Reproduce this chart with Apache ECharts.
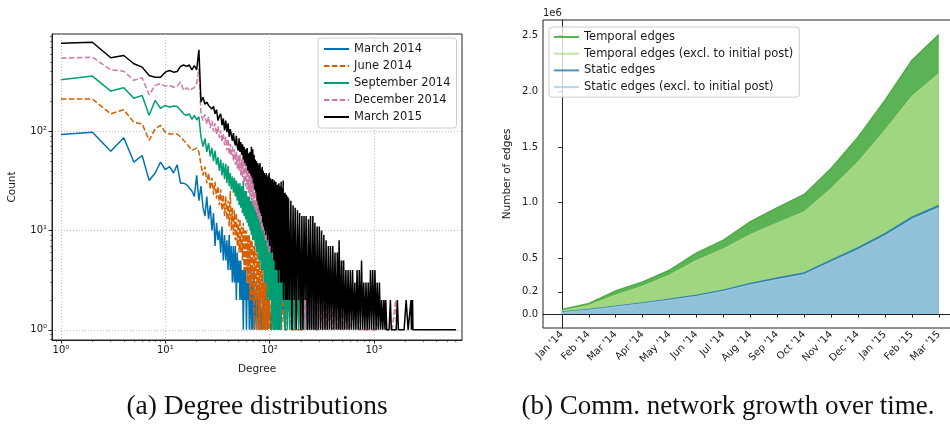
<!DOCTYPE html>
<html>
<head>
<meta charset="utf-8">
<script src="https://cdn.jsdelivr.net/npm/echarts@6/dist/echarts.min.js"></script>
<style>
html, body { margin: 0; padding: 0; background: #fff; }
#chart { width: 950px; height: 429px; }
</style>
</head>
<body>
<div id="chart"></div>
<script>
// (a) degree distributions, [degree, count]
const degMar14 = [[1,93],[2,98],[3,63],[4,86],[5,49],[6,57],[7,32],[8,38],[9,49],[10,41],[11,44],[12,38],[13,46],[14,30],[15,30],[16,29],[17,27],[18,25],[19,22],[20,36],[21,20],
    [22,28],[23,17],[24,14],[25,22],[26,13],[27,18],[28,10],[29,15],[30,7],[31,12],[32,8],[33,10],[34,6],[35,11],[36,5],[37,9],[38,5],[39,8],[40,4],[41,9],[42,4],[43,7],[44,3],[45,7],[46,3],[47,7],[48,2],[49,6],[50,3],[51,5],[52,2],[53,5],[54,2],[55,4],[56,1],[57,4],[58,2],[59,4],[60,1],[61,3],[62,2],[63,3],[64,1],[65,1],[66,4],[67,1],[68,3],[69,1],[70,4],
    [72,1],[75,3],[78,1],[80,3],[83,1],[86,2],[89,1],[92,2],[95,1],[99,2],[103,1],[107,2],[111,1],[120,2],[125,1],[135,2],[140,1],[147,1]];

const degJun14 = [[1,211],[2,211],[3,150],[4,165],[5,123],[6,119],[7,81],[8,106],[9,115],[10,98],[11,94],[12,94],[13,94],[14,88],[15,81],[16,75],[17,70],[18,64],[19,66],[20,68],[21,62],
    [22,46],[23,36],[24,44],[25,30],[26,38],[27,26],[28,34],[29,23],[30,31],[31,21],[32,28],[33,18],[34,26],[35,16],[36,23],[37,14],[38,22],[39,13],[40,20],[41,11],[42,25],[43,10],[44,17],[45,9],[46,16],[47,8],[48,15],[49,7],[50,13],[51,6],[52,13],[53,6],[54,11],[55,5],[56,12],[57,4],[58,10],[59,4],[60,10],[61,3],[62,9],[63,3],[64,9],[65,2],[66,8],[67,2],[68,8],[69,2],[70,7],[71,1],[72,7],[73,2],[74,6],[75,1],[76,6],[77,2],[78,5],[79,1],[80,5],[81,1],[82,4],[83,2],[84,4],[85,1],[86,4],[87,1],[88,3],[89,1],[90,4],[91,1],[92,3],[93,1],[94,3],[95,1],[96,2],[97,1],[98,3],[99,1],[100,2],
    [104,1],[108,2],[112,1],[116,2],[120,1],[125,2],[130,1],[135,2],[140,1],[146,1],[158,2],[162,1],[186,1],[219,1]];

const degSep14 = [[1,331],[2,360],[3,254],[4,275],[5,215],[6,230],[7,145],[8,205],[9,170],[10,182],[11,175],[12,180],[13,178],[14,163],[15,150],[16,145],[17,150],[18,132],[19,145],[20,130],[21,140],
    [22,88],[23,70],[24,85],[25,62],[26,76],[27,56],[28,68],[29,50],[30,64],[31,46],[32,55],[33,40],[34,52],[35,36],[36,48],[37,33],[38,47],[39,30],[40,45],[41,28],[42,38],[43,26],[44,35],[45,24],[46,34],[47,22],[48,32],[49,20],[50,30],[51,18],[52,30],[53,17],[54,28],[55,15],[56,32],[57,14],[58,25],[59,13],[60,25],[61,12],[62,22],[63,11],[64,22],[65,10],[66,20],[67,9],[68,20],[69,8],[70,19],[71,8],[72,19],[73,7],[74,17],[75,6],[76,18],[77,6],[78,16],[79,5],[80,16],[81,5],[82,15],[83,4],[84,15],[85,4],[86,14],[87,4],[88,13],[89,3],[90,14],[91,3],[92,12],[93,3],[94,12],[95,2],[96,13],[97,3],[98,11],[99,2],[100,12],[101,2],[102,10],[103,2],[104,11],[105,1],[106,10],[107,2],[108,9],[109,1],[110,9],[111,2],[112,8],[113,1],[114,8],[115,2],[116,7],[117,1],[118,8],[119,1],[120,7],
    [123,1],[126,6],[129,1],[132,6],[135,2],[138,5],[141,1],[144,5],[148,1],[152,5],[156,1],[160,4],[164,1],[168,4],[172,1],[176,4],[180,1],[185,3],[190,1],[194,3],[199,1],[204,3],[209,1],[214,3],[219,1],[224,3],[230,1],[236,2],[241,1],[247,2],[253,1],[260,2],[266,1],[272,2],[279,1],[290,1]];

const degDec14 = [[1,545],[2,558],[3,416],[4,403],[5,326],[6,346],[7,233],[8,290],[9,302],[10,285],[11,290],[12,278],[13,285],[14,313],[15,258],[16,275],[17,258],[18,268],[19,275],[20,302],[21,427],
    [22,150],[23,128],[24,148],[25,118],[26,140],[27,108],[28,128],[29,100],[30,120],[31,92],[32,112],[33,86],[34,102],[35,78],[36,95],[37,72],[38,88],[39,64],[40,84],[41,58],[42,75],[43,56],[44,70],[45,50],[46,66],[47,46],[48,62],[49,42],[50,58],[51,40],[52,58],[53,36],[54,52],[55,34],[56,55],[57,30],[58,48],[59,28],[60,47],[61,26],[62,44],[63,24],[64,44],[65,22],[66,40],[67,20],[68,40],[69,18],[70,36],[71,17],[72,36],[73,16],[74,33],[75,15],[76,32],[77,14],[78,32],[79,13],[80,30],[81,12],[82,29],[83,11],[84,28],[85,10],[86,27],[87,10],[88,26],[89,9],[90,25],[91,8],[92,24],[93,8],[94,24],[95,7],[96,23],[97,7],[98,22],[99,6],[100,22],
    [103,6],[106,20],[109,5],[112,18],[115,5],[118,16],[121,4],[124,15],[127,4],[130,14],[133,3],[136,14],[140,3],[144,13],[148,2],[152,12],[156,3],[160,12],[164,2],[168,11],[172,2],[176,9],[180,1],[185,8],[190,2],[194,7],[199,1],[204,6],[209,1],[214,5],[219,1],[224,4],[230,1],[236,4],[241,1],[247,4],[253,1],[260,3],[266,1],[272,3],[279,1],[286,3],[293,1],[300,3],[308,1],[315,2],[323,1],[331,3],[340,1],[348,2],[357,1],[366,2],[375,1],[390,2],[404,1],[430,2],[446,1],[470,2],[488,1],[500,5],[513,1],[560,2],[580,1],[700,2],[720,1],[760,1],[900,1],[1050,1],[1290,2],[1310,1],[1500,1],[1620,2],[1650,1]];

const degMar15 = [[1,771],[2,789],[3,550],[4,580],[5,479],[6,443],[7,365],[8,351],[9,351],[10,394],[11,410],[12,394],[13,400],[14,450],[15,465],[16,450],[17,465],[18,416],[19,460],[20,416],[21,662],
    [22,197],[23,221],[24,187],[25,197],[26,182],[27,187],[28,168],[29,178],[30,150],[31,165],[32,128],[33,142],[34,150],[35,115],[36,135],[37,102],[38,128],[39,98],[40,120],[41,88],[42,105],[43,92],[44,80],[45,96],[46,78],[47,72],[48,90],[49,70],[50,64],[51,85],[52,62],[53,78],[54,58],[55,74],[56,52],[57,70],[58,48],[59,66],[60,45],[61,68],[62,40],[63,60],[64,38],[65,62],[66,36],[67,70],[68,34],[69,66],[70,30],[71,58],[72,26],[73,52],[74,24],[75,50],[76,20],[77,48],[78,18],[79,46],[80,16],[81,48],[82,15],[83,42],[84,14],[85,44],[86,12],[87,40],[88,11],[89,38],[90,10],[91,36],[92,9],[93,38],[94,10],[95,35],[96,8],[97,36],[98,9],[99,38],[100,7],
    [101,34],[102,8],[103,33],[104,6],[105,32],[106,7],[107,33],[108,6],[109,30],[110,5],[111,32],[112,6],[113,30],[114,4],[115,31],[116,5],[117,28],[118,4],[119,29],[120,5],[121,27],[122,3],[123,30],[124,4],[125,28],[126,4],[127,26],[128,3],[129,31],[130,4],[131,27],[132,3],[133,25],[134,3],[135,32],[136,2],[137,24],[138,3],[139,23],[140,3],[141,24],[142,2],[143,22],[144,3],[145,23],[146,2],[147,21],[148,2],[149,22],[150,2],
    [152,21],[156,2],[160,20],[164,1],[168,18],[172,2],[176,17],[180,1],[185,16],[190,2],[194,15],[199,1],[204,14],[209,1],[214,14],[219,2],[224,14],[230,1],[236,13],[241,1],[247,14],[253,1],[260,14],[266,1],[272,12],[279,1],[286,11],[293,1],[300,11],[308,1],[315,10],[323,1],[331,9],[340,1],[348,8],[357,1],[366,7],[375,1],[384,7],[394,1],[404,7],[414,1],[424,6],[435,1],[446,6],[457,1],[464,8],[476,1],[488,5],[500,1],[513,5],[526,1],[539,4],[552,1],[566,4],[580,1],[595,4],[610,1],[625,4],[641,1],[657,3],[673,1],[690,4],[707,1],[725,4],[743,1],[762,5],[781,1],[800,3],[820,1],[841,3],[862,1],[883,3],[905,1],[928,4],[951,1],[975,4],[999,1],[1024,4],[1050,1],[1076,3],[1103,1],[1130,3],[1159,1],[1188,2],[1218,1],[1248,2],[1279,1],[1300,2],[1330,1],[1400,1],[1440,2],[1470,1],[1550,1],[1640,1],[1680,2],[1700,2],[1720,1],[1800,1],[1950,1],[2040,2],[2100,2],[2130,1],[2270,2],[2290,1],[2350,2],[2370,1],[2700,1],[3300,1],[4200,1],[5200,1],[6140,1]];

const degXMajor = [1, 10, 100, 1000];
const degXMinor = [0.9, 2, 3, 4, 5, 6, 7, 8, 9, 20, 30, 40, 50, 60, 70, 80, 90, 200, 300, 400, 500, 600, 700, 800, 900, 2000, 3000, 4000, 5000, 6000];
const degYMajor = [1, 10, 100];
const degYMinor = [0.8, 0.9, 2, 3, 4, 5, 6, 7, 8, 9, 20, 30, 40, 50, 60, 70, 80, 90, 200, 300, 400, 500, 600, 700, 800, 900];

// (b) network growth, number of edges in units of 1e6
const months = ["Jan '14", "Feb '14", "Mar '14", "Apr '14", "May '14", "Jun '14", "Jul '14", "Aug '14", "Sep '14", "Oct '14", "Nov '14", "Dec '14", "Jan '15", "Feb '15", "Mar '15"];
const temporalEdges = [0.042, 0.096, 0.21, 0.29, 0.395, 0.55, 0.665, 0.83, 0.956, 1.075, 1.31, 1.59, 1.92, 2.28, 2.51];
const temporalEdgesExcl = [0.03, 0.078, 0.17, 0.25, 0.35, 0.48, 0.585, 0.714, 0.818, 0.917, 1.125, 1.365, 1.65, 1.953, 2.157];
const staticEdges = [0.02, 0.042, 0.072, 0.101, 0.134, 0.17, 0.215, 0.275, 0.325, 0.37, 0.484, 0.597, 0.723, 0.872, 0.977];
const staticEdgesExcl = [0.015, 0.036, 0.065, 0.093, 0.125, 0.16, 0.204, 0.262, 0.31, 0.355, 0.467, 0.578, 0.702, 0.85, 0.955];
const growthYTicks = [0, 0.2, 0.5, 1.0, 1.5, 2.0, 2.5];

const FONT = 'DejaVu Sans';
const INK = '#1a1a1a';
const sup = { 0: '\u2070', 1: '\u00b9', 2: '\u00b2', 3: '\u00b3' };
const powLabel = v => '10' + sup[Math.round(Math.log10(v))];

function degSeries(name, data, color, dashed) {
    return {
        name: name,
        type: 'line',
        xAxisIndex: 0,
        yAxisIndex: 0,
        data: data,
        symbol: 'none',
        showSymbol: false,
        lineStyle: { color: color, width: 1.5, type: dashed ? [5.5, 2.4] : 'solid' },
        itemStyle: { color: color, opacity: 0 },
        animation: false
    };
}

function areaSeries(name, values, color) {
    return {
        name: name,
        type: 'line',
        xAxisIndex: 2,
        yAxisIndex: 2,
        data: values.map((v, i) => [i, v]),
        symbol: 'none',
        showSymbol: false,
        lineStyle: { color: color, width: 1.2, opacity: 0.8 },
        itemStyle: { color: color, opacity: 0 },
        areaStyle: { color: color, opacity: 0.8 },
        animation: false
    };
}

const legendBase = {
    orient: 'vertical',
    itemWidth: 25,
    itemHeight: 10,
    itemGap: 5,
    backgroundColor: 'rgba(255,255,255,0.8)',
    borderColor: '#cccccc',
    borderWidth: 1,
    borderRadius: 3,
    itemStyle: { opacity: 0 },
    textStyle: { fontFamily: FONT, fontSize: 11.5, color: INK, lineHeight: 10 }
};

const logXAxis = {
    type: 'log',
    gridIndex: 0,
    min: 0.82,
    max: 7000,
    position: 'bottom'
};
const logYAxis = {
    type: 'log',
    gridIndex: 0,
    min: 0.79,
    max: 955,
    position: 'left'
};

const options = {
    backgroundColor: '#fff',
    animation: false,
    grid: [
        { left: 52, top: 34, width: 410, height: 306, show: true, borderColor: '#222', borderWidth: 1, backgroundColor: 'transparent', outerBoundsMode: 'none' },
        { left: 543, top: 20, width: 409, height: 308, show: true, borderColor: '#222', borderWidth: 1, backgroundColor: 'transparent', outerBoundsMode: 'none' }
    ],
    legend: [
        Object.assign({}, legendBase, {
            left: 318, top: 38, padding: [5, 6, 5, 5],
            data: ['March 2014', 'June 2014', 'September 2014', 'December 2014', 'March 2015']
        }),
        Object.assign({}, legendBase, {
            left: 549, top: 27, padding: [4, 6, 4, 4], itemGap: 4.7,
            data: ['Temporal edges', 'Temporal edges (excl. to initial post)', 'Static edges', 'Static edges (excl. to initial post)']
        })
    ],
    xAxis: [
        Object.assign({}, logXAxis, {
            name: 'Degree', nameLocation: 'middle', nameGap: 24,
            nameTextStyle: { fontFamily: FONT, fontSize: 10.5, color: INK },
            axisLine: { show: true, lineStyle: { color: '#222', width: 1 } },
            axisTick: { show: true, length: 3.5, customValues: degXMajor, lineStyle: { color: '#222' } },
            axisLabel: { customValues: degXMajor, formatter: powLabel, margin: 5, fontFamily: FONT, fontSize: 10, color: INK },
            splitLine: { show: true, lineStyle: { color: '#b0b0b0', type: [1, 2], width: 0.8 } }
        }),
        Object.assign({}, logXAxis, {
            axisLine: { show: false },
            axisTick: { show: true, length: 2, customValues: degXMinor, lineStyle: { color: '#222', width: 0.6 } },
            axisLabel: { show: false },
            splitLine: { show: false }
        }),
        {
            type: 'value',
            gridIndex: 1,
            min: -0.7,
            max: 14.49,
            position: 'bottom',
            axisLine: { show: true, lineStyle: { color: '#222', width: 1 } },
            axisTick: { show: true, length: 3.5, customValues: months.map((m, i) => i), lineStyle: { color: '#222' } },
            axisLabel: { customValues: months.map((m, i) => i), formatter: v => months[Math.round(v)], rotate: 45, margin: 5, fontFamily: FONT, fontSize: 10, color: INK },
            splitLine: { show: false }
        }
    ],
    yAxis: [
        Object.assign({}, logYAxis, {
            name: 'Count', nameLocation: 'middle', nameGap: 34,
            nameTextStyle: { fontFamily: FONT, fontSize: 10.5, color: INK },
            axisLine: { show: true, lineStyle: { color: '#222', width: 1 } },
            axisTick: { show: true, length: 3.5, customValues: degYMajor, lineStyle: { color: '#222' } },
            axisLabel: { customValues: degYMajor, formatter: powLabel, margin: 5, fontFamily: FONT, fontSize: 10, color: INK },
            splitLine: { show: true, lineStyle: { color: '#b0b0b0', type: [1, 2], width: 0.8 } }
        }),
        Object.assign({}, logYAxis, {
            axisLine: { show: false },
            axisTick: { show: true, length: 2, customValues: degYMinor, lineStyle: { color: '#222', width: 0.6 } },
            axisLabel: { show: false },
            splitLine: { show: false }
        }),
        {
            type: 'value',
            gridIndex: 1,
            min: -0.125,
            max: 2.64,
            position: 'left',
            name: 'Number of edges', nameLocation: 'middle', nameGap: 30,
            nameTextStyle: { fontFamily: FONT, fontSize: 10.5, color: INK },
            axisLine: { show: true, lineStyle: { color: '#222', width: 1 } },
            axisTick: { show: true, length: 3.5, customValues: growthYTicks, lineStyle: { color: '#222' } },
            axisLabel: { customValues: growthYTicks, formatter: v => v.toFixed(1), margin: 5, fontFamily: FONT, fontSize: 10, color: INK },
            splitLine: { show: false }
        }
    ],
    graphic: [
        { type: 'text', x: 543, y: 13, style: { text: '1e6', font: '10px "DejaVu Sans"', fill: INK, textVerticalAlign: 'middle' } },
        { type: 'text', x: 257, y: 407, style: { text: '(a) Degree distributions', font: '27.5px "Liberation Serif"', fill: '#111', textAlign: 'center', textVerticalAlign: 'middle' } },
        { type: 'text', x: 728, y: 407, style: { text: '(b) Comm. network growth over time.', font: '27px "Liberation Serif"', fill: '#111', textAlign: 'center', textVerticalAlign: 'middle' } }
    ],
    series: [
        degSeries('March 2014', degMar14, '#0072B2', false),
        degSeries('June 2014', degJun14, '#D55E00', true),
        degSeries('September 2014', degSep14, '#009E73', false),
        degSeries('December 2014', degDec14, '#CC79A7', true),
        degSeries('March 2015', degMar15, '#000000', false),
        areaSeries('Temporal edges', temporalEdges, '#33a02c'),
        areaSeries('Temporal edges (excl. to initial post)', temporalEdgesExcl, '#b2df8a'),
        areaSeries('Static edges', staticEdges, '#1f78b4'),
        areaSeries('Static edges (excl. to initial post)', staticEdgesExcl, '#a6cee3')
    ]
};

const E = echarts.init(document.getElementById('chart'), null, { renderer: 'canvas' });
E.setOption(options);
window.onresize = function () {
    E.resize();
};
</script>
</body>
</html>
